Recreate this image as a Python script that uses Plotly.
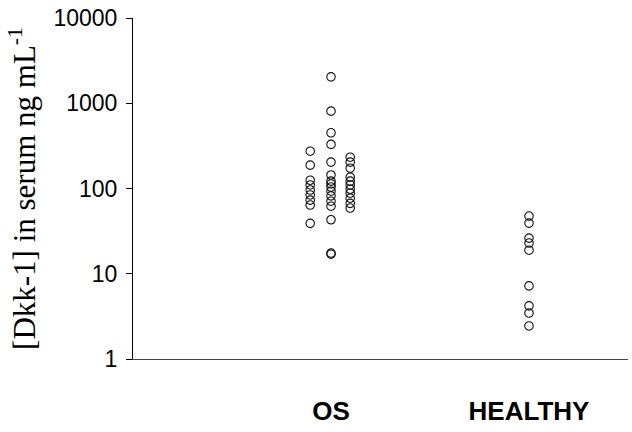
import plotly.graph_objects as go

categories = ["OS", "HEALTHY"]
category_pos = [1, 2]

# OS group drawn as three sub-columns
os_col1 = [274, 188, 125, 110, 96, 84, 73, 64, 39]
os_col2 = [2040, 808, 450, 329, 204, 144, 122, 113, 104, 93, 82, 71, 62, 43, 17.5, 17]
os_col3 = [233, 204, 173, 136, 122, 110, 98, 88, 77, 67, 59]
healthy = [47.5, 39.3, 26.2, 22.9, 18.9, 7.2, 4.2, 3.46, 2.44]

col_offsets = [-0.105, 0.0, 0.097]

y_ticks = [1, 10, 100, 1000, 10000]
y_ticktext = ["1", "10", "100", "1000", "10000"]

fig = go.Figure()
marker = dict(symbol="circle-open", size=8.5, color="#111111", line=dict(width=1.1, color="#111111"))
for off, col in zip(col_offsets, [os_col1, os_col2, os_col3]):
    fig.add_trace(go.Scatter(x=[category_pos[0] + off] * len(col), y=col, mode="markers",
                             marker=marker, showlegend=False, hoverinfo="y"))
fig.add_trace(go.Scatter(x=[category_pos[1]] * len(healthy), y=healthy, mode="markers",
                         marker=marker, showlegend=False, hoverinfo="y"))

fig.update_layout(
    width=632, height=432,
    margin=dict(l=133, r=4, t=18, b=73),
    paper_bgcolor="white", plot_bgcolor="white",
    font=dict(family="Liberation Sans, Arial", color="black"),
)
fig.update_xaxes(
    range=[0, 2.5], tickvals=category_pos, ticktext=categories,
    showgrid=False, zeroline=False, showline=True, linecolor="#444444", linewidth=1,
    ticks="", ticklabelstandoff=29,
    tickfont=dict(family="Liberation Sans, Arial", size=26, color="black", weight="bold"),
)
fig.update_yaxes(
    type="log", range=[0, 4], tickvals=y_ticks, ticktext=y_ticktext,
    showgrid=False, zeroline=False, showline=True, linecolor="black", linewidth=1,
    ticks="outside", ticklen=6, tickcolor="black", ticklabelstandoff=4,
    tickfont=dict(family="Liberation Sans, Arial", size=23, color="black"),
    title=dict(text="[Dkk-1] in serum ng mL<sup>-1</sup>",
               font=dict(family="Liberation Serif, Times New Roman", size=31, color="black"),
               standoff=8),
)
fig.write_html("out.html")
